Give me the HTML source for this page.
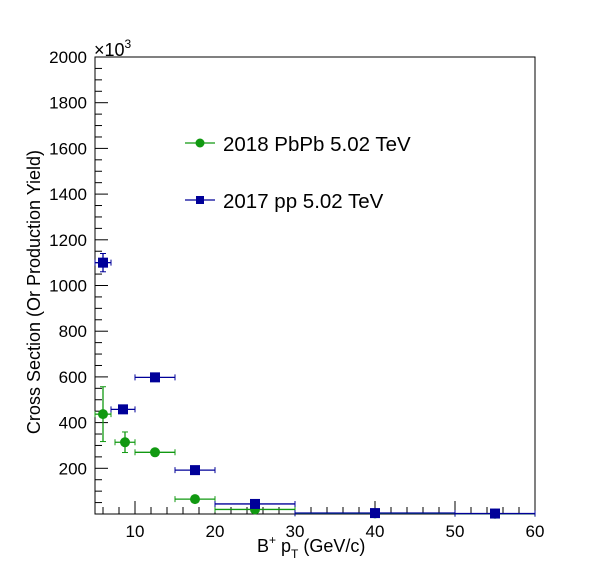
<!DOCTYPE html>
<html><head><meta charset="utf-8"><style>
body{margin:0;background:#fff;}
svg text{font-family:"Liberation Sans",sans-serif;fill:#000;}
</style></head><body>
<svg id="chart" width="596" height="572" xmlns="http://www.w3.org/2000/svg">
<rect x="0" y="0" width="596" height="572" fill="#fff"/>
<g id="axes"></g>
<g id="series"></g>
<text x="94" y="56" font-size="18">×10<tspan font-size="12" dy="-8">3</tspan></text>
<text transform="translate(40,292) rotate(-90)" text-anchor="middle" font-size="18">Cross Section (Or Production Yield)</text>
<text x="257" y="552" font-size="18">B<tspan font-size="12" dy="-8">+</tspan><tspan dy="8"> p</tspan><tspan font-size="12" dy="6">T</tspan><tspan dy="-6"> (GeV/c)</tspan></text>
<g>
<g>
<line x1="185" y1="143" x2="215" y2="143" stroke="#119911" stroke-width="1.2"/>
<circle cx="200" cy="143" r="4.5" fill="#119911"/>
<text x="223" y="151" font-size="20.5">2018 PbPb 5.02 TeV</text>
</g>
<g>
<line x1="185" y1="200" x2="215" y2="200" stroke="#000099" stroke-width="1.2"/>
<rect x="196" y="196" width="8" height="8" fill="#000099"/>
<text x="223" y="208" font-size="20.5">2017 pp 5.02 TeV</text>
</g>
</g>
</svg>
<script>
const ppCenters=[6,8.5,12.5,17.5,25,40,55];
const ppLow=[5,7,10,15,20,30,50];
const ppHigh=[7,10,15,20,30,50,60];
const ppValues=[1100,458,598,192,44,4,2];
const ppErrors=[40,12,10,8,4,1,1];
const pbCenters=[6,8.75,12.5,17.5,25,40,55];
const pbLow=[5,7.5,10,15,20,30,50];
const pbHigh=[7,10,15,20,30,50,60];
const pbValues=[437,314,270,65,20,3,1];
const pbErrors=[120,45,10,8,3,1,1];
const xTicks=[10,20,30,40,50,60];
const yTicks=[200,400,600,800,1000,1200,1400,1600,1800,2000];

const NS="http://www.w3.org/2000/svg";
const X0=95,X1=535,Y0=514,Y1=57,xmin=5,xmax=60,ymin=0,ymax=2000;
function sx(v){return X0+(v-xmin)/(xmax-xmin)*(X1-X0);}
function sy(v){return Y0-(v-ymin)/(ymax-ymin)*(Y0-Y1);}
function mk(tag,attrs,parent){const e=document.createElementNS(NS,tag);for(const k in attrs)e.setAttribute(k,attrs[k]);parent.appendChild(e);return e;}
const axes=document.getElementById('axes');
const frame=mk('path',{d:`M${X0} ${Y1}H${X1}V${Y0}H${X0}Z`,fill:'none',stroke:'#000','stroke-width':1},axes);


for(let v=6;v<=60;v+=2){
  const major=v%10===0;
  const t=mk('line',{x1:sx(v),x2:sx(v),y1:Y0,y2:Y0-(major?13:7),stroke:'#000'},axes);
  
  
}
xTicks.forEach(v=>{
  const t=mk('text',{x:sx(v),y:Y0+23,'text-anchor':'middle','font-size':17},axes);
  t.textContent=v;
  
  
});
for(let v=50;v<=2000;v+=50){
  const major=v%200===0;
  const t=mk('line',{x1:X0,x2:X0+(major?13:7),y1:sy(v),y2:sy(v),stroke:'#000'},axes);
  
  
}
yTicks.forEach(v=>{
  const t=mk('text',{x:X0-8,y:sy(v)+6,'text-anchor':'end','font-size':17},axes);
  t.textContent=v;
  
  
});
const series=document.getElementById('series');
function draw(name,centers,lo,hi,vals,errs,color,shape){
  const g=mk('g',{},series);
  
  
  centers.forEach((c,i)=>{
    const y=sy(vals[i]);
    mk('line',{x1:sx(lo[i]),x2:sx(hi[i]),y1:y,y2:y,stroke:color,'stroke-width':1.3},g);
    mk('line',{x1:sx(lo[i]),x2:sx(lo[i]),y1:y-3,y2:y+3,stroke:color},g);
    mk('line',{x1:sx(hi[i]),x2:sx(hi[i]),y1:y-3,y2:y+3,stroke:color},g);
    if(errs[i]>3){
      const ya=sy(vals[i]+errs[i]),yb=sy(vals[i]-errs[i]);
      mk('line',{x1:sx(c),x2:sx(c),y1:ya,y2:yb,stroke:color,'stroke-width':1.3},g);
      mk('line',{x1:sx(c)-3,x2:sx(c)+3,y1:ya,y2:ya,stroke:color},g);
      mk('line',{x1:sx(c)-3,x2:sx(c)+3,y1:yb,y2:yb,stroke:color},g);
    }
    let m;
    if(shape==='circle') m=mk('circle',{cx:sx(c),cy:y,r:5,fill:color},g);
    else m=mk('rect',{x:sx(c)-5,y:y-5,width:10,height:10,fill:color},g);
    
    
  });
}
draw('pbpb',pbCenters,pbLow,pbHigh,pbValues,pbErrors,'#119911','circle');
draw('pp',ppCenters,ppLow,ppHigh,ppValues,ppErrors,'#000099','square');
</script>
</body></html>
